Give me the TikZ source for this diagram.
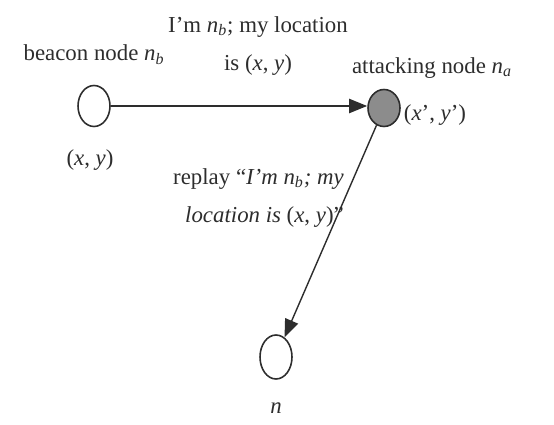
\documentclass[tikz,border=0pt]{standalone}
\usepackage{fontspec}
\setmainfont{Liberation Serif}
\usetikzlibrary{arrows.meta, positioning, shapes.geometric}
\definecolor{inkgray}{RGB}{45,45,45}
\definecolor{attackfill}{RGB}{140,140,140}
\newcommand{\idx}[2]{\textit{#1}\textsubscript{\textit{#2}}}

\begin{document}
\begin{tikzpicture}[x=0.02cm, y=-0.02cm, font=\fontsize{13}{22}\selectfont, text=inkgray,
  sensor/.style={ellipse, draw=inkgray, line width=0.9pt, minimum width=0.64cm, minimum height=0.82cm, inner sep=0pt},
  msg/.style={draw=inkgray, line width=1.2pt, -{Triangle[length=0.36cm, width=0.28cm]}}]
  \useasboundingbox (0,0) rectangle (554,425);
  % sensor nodes
  \node[sensor, fill=white] (beacon) at (94,106) {};
  \node[sensor, fill=attackfill, minimum height=0.74cm] (attacker) at (384,108) {};
  \node[sensor, fill=white, minimum height=0.88cm] (victim) at (276,357) {};
  % labels
  \node (beaconlbl) at (94,55) {beacon node \idx{n}{b}};
  \node (beaconpos) at (90,160) {(\textit{x}, \textit{y})};
  \node (attackerlbl) at (432,68) {attacking node \idx{n}{a}};
  \node (attackerpos) at (435,115) {(\textit{x}\/', \textit{y}\/')};
  \node (victimlbl) at (276,408) {\textit{n}};
  % messages
  \draw[msg] (beacon) -- (beacon -| attacker.west);
  \node[align=center] (claim) at (258,46) {I'm \idx{n}{b}; my location\\is (\textit{x}, \textit{y})};
  \draw[msg, line width=0.8pt] (attacker) -- (victim);
  \node[align=right, anchor=east] (replay) at (350,198) {replay “\textit{I'm }\idx{n}{b}\textit{; my}\\\textit{location is} (\textit{x}, \textit{y})”};
\end{tikzpicture}
\end{document}
